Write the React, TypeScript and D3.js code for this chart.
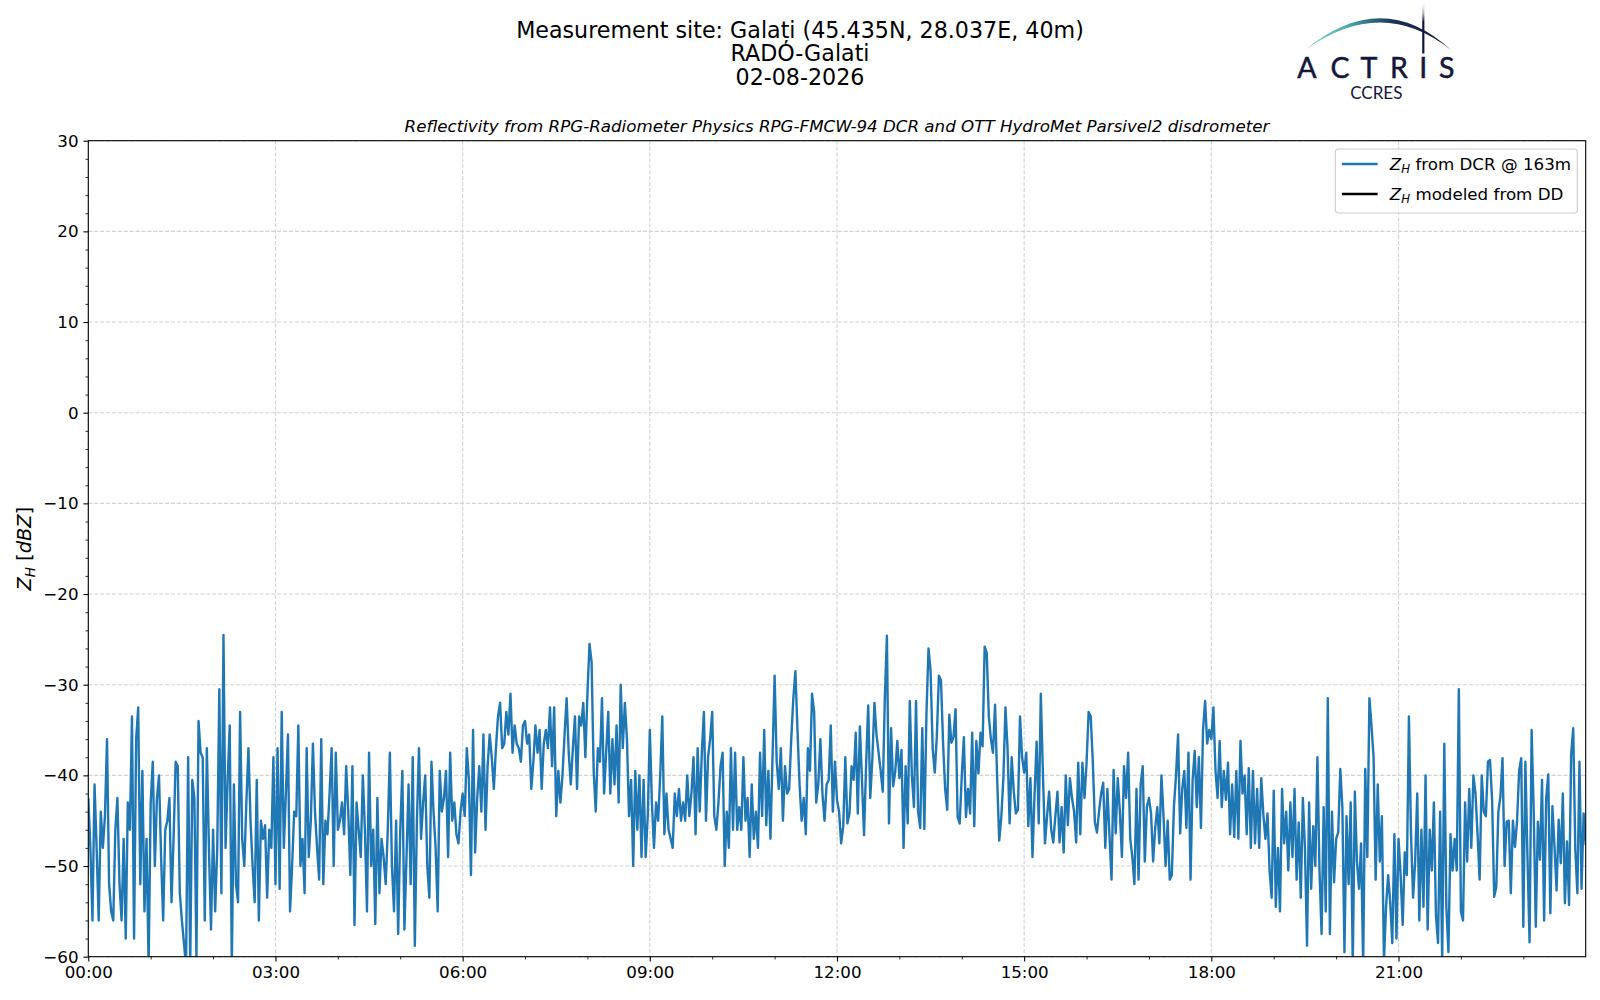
import * as d3 from 'd3';
import React, { useEffect, useRef } from 'react';

// DCR sampling step, minutes
const STEP_MIN = 2;

// Z_H from DCR @ 163m [dBZ], one row per hour
const zhDcr: number[] = [
	// 00
	-42.5, -48, -56, -41, -48, -56, -44, -48, -44.5, -36, -52, -55, -56, -46, -42.5, -52, -56, -47, -58, -43, -46, -33.5, -58, -36, -32.5, -52, -39.5, -55, -47, -61,
	// 01
	-43, -38.5, -50, -42.5, -40, -49, -56, -46, -45, -42.5, -54, -47, -38.5, -39, -53, -56, -58.5, -61, -38, -61, -40.5, -42.5, -60, -34, -37.5, -38, -56, -37, -48, -57,
	// 02
	-46, -55, -48, -30.5, -53, -24.5, -48, -40.5, -34.5, -61, -41, -52, -54, -33, -47, -50, -43, -37, -45, -50, -54, -40.5, -56, -45, -47, -45.5, -53.5, -46, -48, -38,
	// 03
	-52, -37, -52.5, -33, -48, -42, -35.5, -55, -50, -44, -44.5, -34.5, -50, -47, -53, -37, -49, -45, -36.5, -44, -48, -51.5, -36, -52, -45, -46.5, -42, -37, -50, -37.5,
	// 04
	-46, -45, -43, -46.5, -39, -44, -51, -39, -56.5, -43, -46, -49, -40, -46, -55, -37.5, -50, -46, -56.4, -42.5, -53, -47, -49, -52, -46, -37.5, -50, -55, -45, -57.5,
	// 05
	-46, -39.5, -57, -49, -41, -52, -38, -58.8, -45, -37, -47, -43, -40, -50, -53.5, -38.5, -44, -48, -55, -39.5, -44, -42.5, -39.5, -49, -37.5, -45, -43, -46.5, -47.5, -44,
	// 06
	-42, -44.5, -37, -40.5, -51, -35, -48.5, -42.5, -39, -44, -35.5, -46, -39, -35.5, -38, -41.5, -37, -33.5, -32, -37, -36.5, -33, -35.5, -31, -37.5, -34.5, -36.5, -37, -38.5, -34.5,
	// 07
	-34, -36.5, -35.5, -41.5, -38.5, -34.5, -37.5, -35, -41.5, -36.5, -35, -37, -32.5, -39, -32.5, -44.5, -39.5, -43, -40, -35.5, -31.5, -37.5, -41, -37, -33.5, -41.5, -33.5, -34.5, -32, -38,
	// 08
	-31, -25.5, -27.5, -39.5, -44, -37, -38.5, -31.5, -42, -37.5, -33, -42, -36, -41, -34.5, -43, -30, -37, -32, -36, -44.5, -40.5, -50, -39.5, -46, -40, -49, -40.5, -49, -44.5,
	// 09
	-35, -43, -48, -43, -45, -40, -33.5, -46.5, -42, -46, -47, -48, -42, -44.5, -41.5, -45, -43, -45, -40, -44.5, -42, -38, -46.5, -37, -44, -37.5, -33, -45, -38, -36,
	// 10
	-33, -44.5, -46, -43, -39, -37.5, -50, -44, -48, -37, -46, -37.5, -46, -43.5, -46, -38, -45, -42.5, -49, -41, -47, -44, -48, -37.5, -44.5, -35, -45.5, -39.5, -47, -38,
	// 11
	-29, -38.5, -41.5, -37, -45, -39, -42, -41.5, -36, -31.5, -28.5, -35, -41, -45, -42.5, -46.5, -37, -39.5, -31, -33, -43, -41, -36, -42, -45, -41, -40.5, -34.5, -44, -38.5,
	// 12
	-42.7, -44, -47.5, -45.6, -38, -45.3, -44.2, -39, -40.5, -35.3, -44.2, -34.6, -40.5, -46.6, -38.8, -32.3, -42.5, -38.2, -32, -35.5, -37.5, -39.5, -41.8, -31.5, -24.6, -45.3, -34.8, -41.2, -39.6, -36.2,
	// 13
	-40.3, -37.2, -48, -39, -45.3, -31.8, -40, -43.5, -31.8, -44, -45.8, -34.8, -45.9, -33.3, -26, -28.5, -37, -39.7, -35.7, -29, -29.5, -36.4, -41.5, -43.8, -33.3, -36.4, -35.8, -32.7, -44.6, -45.3,
	// 14
	-40, -35.8, -44.6, -41.5, -44.2, -35.3, -45.6, -36.2, -39.8, -35.3, -36.8, -25.8, -26.5, -33.5, -36, -37.5, -32.2, -40.3, -47.2, -44.6, -40.3, -32.5, -37, -45.3, -38, -41.8, -44.2, -43.8, -33.5, -38,
	// 15
	-39.7, -37.5, -45.6, -40.3, -49, -42, -36.3, -45.3, -31, -39.7, -47.5, -44.5, -41.8, -46, -47.4, -44.5, -41.8, -47.4, -43.5, -48.5, -40, -45.5, -40.3, -42.5, -44, -47.4, -38.6, -46.5, -38.6, -42.5,
	// 16
	-38.6, -33, -33.5, -38.5, -45.2, -46.3, -44, -42, -40.8, -48, -41.5, -46.5, -51.5, -39.4, -46.4, -40.3, -44, -49, -39, -42.5, -37.5, -47, -49, -52, -41.5, -51.5, -41, -39, -49.5, -43.5,
	// 17
	-42.5, -44.2, -49.5, -45.8, -43.5, -47.5, -40, -44.5, -50, -45, -51.5, -51, -43.5, -40, -35.5, -46.4, -41.5, -39.5, -45.8, -37.5, -51.5, -40.5, -37.3, -43.5, -38, -45.8, -35, -31.8, -36.5, -35,
	// 18
	-36, -32.5, -39.5, -42.5, -36.2, -43.5, -39.5, -42.7, -38.6, -46.5, -41, -46.8, -39.5, -47, -36.2, -42, -40, -46.5, -39.2, -48, -39.5, -47.5, -41.5, -48, -40.3, -44.3, -47, -44.2, -50.5, -53.5,
	// 19
	-41.7, -54.5, -48, -55, -41.5, -47.5, -44, -50.5, -43, -49, -41.5, -51.5, -45.2, -53.5, -42.5, -48, -58.8, -43, -52.5, -45.6, -50, -38, -50.5, -57.5, -43.5, -55, -31.5, -57.5, -44, -51.8,
	// 20
	-47, -46.3, -39.3, -43.5, -59.5, -44.5, -52, -43, -61, -41.8, -49.5, -52.5, -47.5, -61, -39.3, -49, -31.5, -34.5, -38, -51.5, -41, -49.5, -44.5, -60.5, -54.5, -51, -54, -58.5, -46.5, -58,
	// 21
	-47, -51, -56.5, -48.5, -51, -33.5, -46.5, -53.5, -49.5, -42, -56, -46, -54.5, -40, -57, -46, -50.5, -43, -55.5, -58.5, -44, -60.5, -36.5, -54.5, -59.5, -46.5, -50.5, -47, -50.5, -30.5,
	// 22
	-55, -56, -43, -49.5, -41.5, -48, -40, -42, -46.5, -51.5, -40, -44, -44.5, -38.5, -38.3, -42.7, -53.4, -52.3, -44, -42.3, -38.1, -50, -45.1, -45, -53, -45, -47.9, -45, -39.5, -38.1,
	// 23 (last value is 24:00)
	-56.7, -38.5, -49, -58.4, -35, -44, -56.7, -45.1, -49.3, -40.5, -56, -42.5, -39.9, -55.2, -43.4, -47.9, -52.7, -44.9, -49.7, -42, -54.1, -47.3, -54.3, -37.7, -34.8, -48.2, -53, -38.5, -52.5, -44.2, -47.7,
];

const xTickHours = [0, 3, 6, 9, 12, 15, 18, 21];
const xTickLabels = ['00:00', '03:00', '06:00', '09:00', '12:00', '15:00', '18:00', '21:00'];
const yTicks = [-60, -50, -40, -30, -20, -10, 0, 10, 20, 30];

const titleLines = ['Measurement site: Galați (45.435N, 28.037E, 40m)', 'RADO-Galati', '02-08-2026'];
const subTitle = 'Reflectivity from RPG-Radiometer Physics RPG-FMCW-94 DCR and OTT HydroMet Parsivel2 disdrometer';
const legendLabels = [' from DCR @ 163m', ' modeled from DD'];
const legendColors = ['#1f77b4', '#000000'];

const W = 1600;
const H = 1000;
const margin = { top: 140.7, right: 14.3, bottom: 43.3, left: 88.3 };
const font = '"DejaVu Sans", sans-serif';
const navy = '#13173b';

export default function App() {
	const svgRef = useRef<SVGSVGElement>(null);

	useEffect(() => {
		const svg = d3.select(svgRef.current);
		svg.selectAll('*').remove();

		const x0 = margin.left;
		const x1 = W - margin.right;
		const y0 = margin.top;
		const y1 = H - margin.bottom;
		const x = d3.scaleLinear().domain([0, 24 * 60]).range([x0, x1]);
		const y = d3.scaleLinear().domain([-60, 30]).range([y1, y0]);

		svg.append('rect').attr('width', W).attr('height', H).attr('fill', 'white');

		const defs = svg.append('defs');
		defs.append('clipPath').attr('id', 'plotClip')
			.append('rect').attr('x', x0).attr('y', y0).attr('width', x1 - x0).attr('height', y1 - y0);

		// grid
		const grid = svg.append('g')
			.attr('stroke', '#d3d3d3')
			.attr('stroke-width', 1.1)
			.attr('stroke-dasharray', '4.1,1.8');
		grid.append('g').selectAll('line').data(xTickHours).join('line')
			.attr('x1', d => x(d * 60)).attr('x2', d => x(d * 60))
			.attr('y1', y0).attr('y2', y1);
		grid.append('g').selectAll('line').data(yTicks).join('line')
			.attr('x1', x0).attr('x2', x1)
			.attr('y1', d => y(d)).attr('y2', d => y(d));

		// data
		const line = d3.line<number>()
			.x((d, i) => x(i * STEP_MIN))
			.y(d => y(d));
		svg.append('path')
			.datum(zhDcr)
			.attr('clip-path', 'url(#plotClip)')
			.attr('fill', 'none')
			.attr('stroke', '#1f77b4')
			.attr('stroke-width', 2.4)
			.attr('stroke-linejoin', 'round')
			.attr('d', line);

		// axes
		const styleAxis = (g: any, width: number) => {
			g.select('.domain').remove();
			g.attr('font-family', font).attr('font-size', 16.7);
			g.selectAll('line').attr('stroke', 'black').attr('stroke-width', width);
			g.selectAll('text').attr('fill', 'black');
		};
		svg.append('g')
			.attr('transform', `translate(0,${y1})`)
			.call(d3.axisBottom(x)
				.tickValues(xTickHours.map(h => h * 60))
				.tickFormat((d, i) => xTickLabels[i])
				.tickSize(4.86).tickPadding(4.86).tickSizeOuter(0))
			.call((g: any) => styleAxis(g, 1.1));
		svg.append('g')
			.attr('transform', `translate(0,${y1})`)
			.call(d3.axisBottom(x)
				.tickValues(d3.range(1, 24).filter(h => h % 3 !== 0).map(h => h * 60))
				.tickFormat(() => '')
				.tickSize(2.78).tickSizeOuter(0))
			.call((g: any) => styleAxis(g, 0.83));
		svg.append('g')
			.attr('transform', `translate(${x0},0)`)
			.call(d3.axisLeft(y)
				.tickValues(yTicks)
				.tickFormat(d3.format('d'))
				.tickSize(4.86).tickPadding(4.86).tickSizeOuter(0))
			.call((g: any) => styleAxis(g, 1.1));
		svg.append('g')
			.attr('transform', `translate(${x0},0)`)
			.call(d3.axisLeft(y)
				.tickValues(d3.range(-58, 30, 2).filter(v => v % 10 !== 0))
				.tickFormat(() => '')
				.tickSize(2.78).tickSizeOuter(0))
			.call((g: any) => styleAxis(g, 0.83));

		// spines
		svg.append('rect')
			.attr('x', x0).attr('y', y0).attr('width', x1 - x0).attr('height', y1 - y0)
			.attr('fill', 'none').attr('stroke', 'black').attr('stroke-width', 1.1);

		// y label
		const yl = svg.append('text')
			.attr('transform', `translate(30.5,${(y0 + y1) / 2}) rotate(-90)`)
			.attr('text-anchor', 'middle')
			.attr('font-family', font)
			.attr('font-size', 19.4);
		yl.append('tspan').attr('font-style', 'italic').text('Z');
		yl.append('tspan').attr('font-style', 'italic').attr('font-size', 13.6).attr('dy', 4).text('H');
		yl.append('tspan').attr('dy', -4).text(' [');
		yl.append('tspan').attr('font-style', 'italic').text('dBZ');
		yl.append('tspan').text(']');

		// titles
		svg.append('g')
			.attr('font-family', font)
			.attr('font-size', 22.2)
			.attr('text-anchor', 'middle')
			.selectAll('text').data(titleLines).join('text')
			.attr('x', 800)
			.attr('y', (d, i) => 37.8 + i * 23.5)
			.text(d => d);
		svg.append('text')
			.attr('x', (x0 + x1) / 2).attr('y', 131.5)
			.attr('text-anchor', 'middle')
			.attr('font-family', font).attr('font-size', 16.7).attr('font-style', 'italic')
			.text(subTitle);

		// legend
		const lgRight = x1 - 8.35;
		const lgTop = y0 + 8.35;
		const lgW = 242;
		const lg = svg.append('g');
		lg.append('rect')
			.attr('x', lgRight - lgW).attr('y', lgTop).attr('width', lgW).attr('height', 64)
			.attr('rx', 3.3)
			.attr('fill', 'white').attr('fill-opacity', 0.8)
			.attr('stroke', '#cccccc').attr('stroke-width', 1.1);
		legendLabels.forEach((label, i) => {
			const cy = lgTop + 15 + i * 30;
			const hx = lgRight - lgW + 7.7;
			lg.append('line')
				.attr('x1', hx).attr('x2', hx + 33.4)
				.attr('y1', cy).attr('y2', cy)
				.attr('stroke', legendColors[i]).attr('stroke-width', 2.4).attr('stroke-linecap', 'square');
			const t = lg.append('text')
				.attr('x', hx + 33.4 + 13.4).attr('y', cy + 6)
				.attr('font-family', font).attr('font-size', 16.7);
			t.append('tspan').attr('font-style', 'italic').text('Z');
			t.append('tspan').attr('font-style', 'italic').attr('font-size', 11.7).attr('dy', 3.4).text('H');
			t.append('tspan').attr('dy', -3.4).text(label);
		});

		// ACTRIS / CCRES logo
		const arcGrad = defs.append('linearGradient').attr('id', 'arcGrad')
			.attr('gradientUnits', 'userSpaceOnUse')
			.attr('x1', 1306).attr('x2', 1450).attr('y1', 0).attr('y2', 0);
		[[0, '#86cfc8'], [0.28, '#52aeae'], [0.45, '#2b6f80'], [0.62, '#1a2f52'], [1, navy]].forEach(([o, c]) =>
			arcGrad.append('stop').attr('offset', o as number).attr('stop-color', c as string));
		const barGrad = defs.append('linearGradient').attr('id', 'barGrad')
			.attr('gradientUnits', 'userSpaceOnUse')
			.attr('x1', 0).attr('x2', 0).attr('y1', 1).attr('y2', 53);
		[[0, 'white', 0], [0.4, navy, 1], [1, navy, 1]].forEach(([o, c, a]) =>
			barGrad.append('stop').attr('offset', o as number).attr('stop-color', c as string).attr('stop-opacity', a as number));

		const logo = svg.append('g');
		logo.append('path')
			.attr('d', 'M1305,50 Q1382,-13.5 1451,50 Q1382,-5 1305,50 Z')
			.attr('fill', 'url(#arcGrad)');
		logo.append('rect')
			.attr('x', 1422.2).attr('y', 1).attr('width', 2.2).attr('height', 52.5)
			.attr('fill', 'url(#barGrad)');
		const letterX = [1307, 1340, 1369, 1399, 1423.3, 1446.7];
		logo.append('g')
			.attr('font-family', 'Lato, "Open Sans", sans-serif')
			.attr('font-size', 28.5)
			.attr('fill', navy)
			.attr('text-anchor', 'middle')
			.selectAll('text').data('ACTRIS'.split('')).join('text')
			.attr('x', (d, i) => letterX[i])
			.attr('y', 78)
			.attr('stroke', navy)
			.attr('stroke-width', 0.5)
			.text(d => d);
		logo.append('text')
			.attr('x', 1376.3).attr('y', 99)
			.attr('font-family', 'Lato, "Open Sans", sans-serif')
			.attr('font-size', 17)
			.attr('fill', navy)
			.attr('text-anchor', 'middle')
			.text('CCRES');
	}, []);

	return (
		<div>
			<style>{'body{margin:0}'}</style>
			<svg ref={svgRef} width={W} height={H} style={{ display: 'block' }} />
		</div>
	);
}
